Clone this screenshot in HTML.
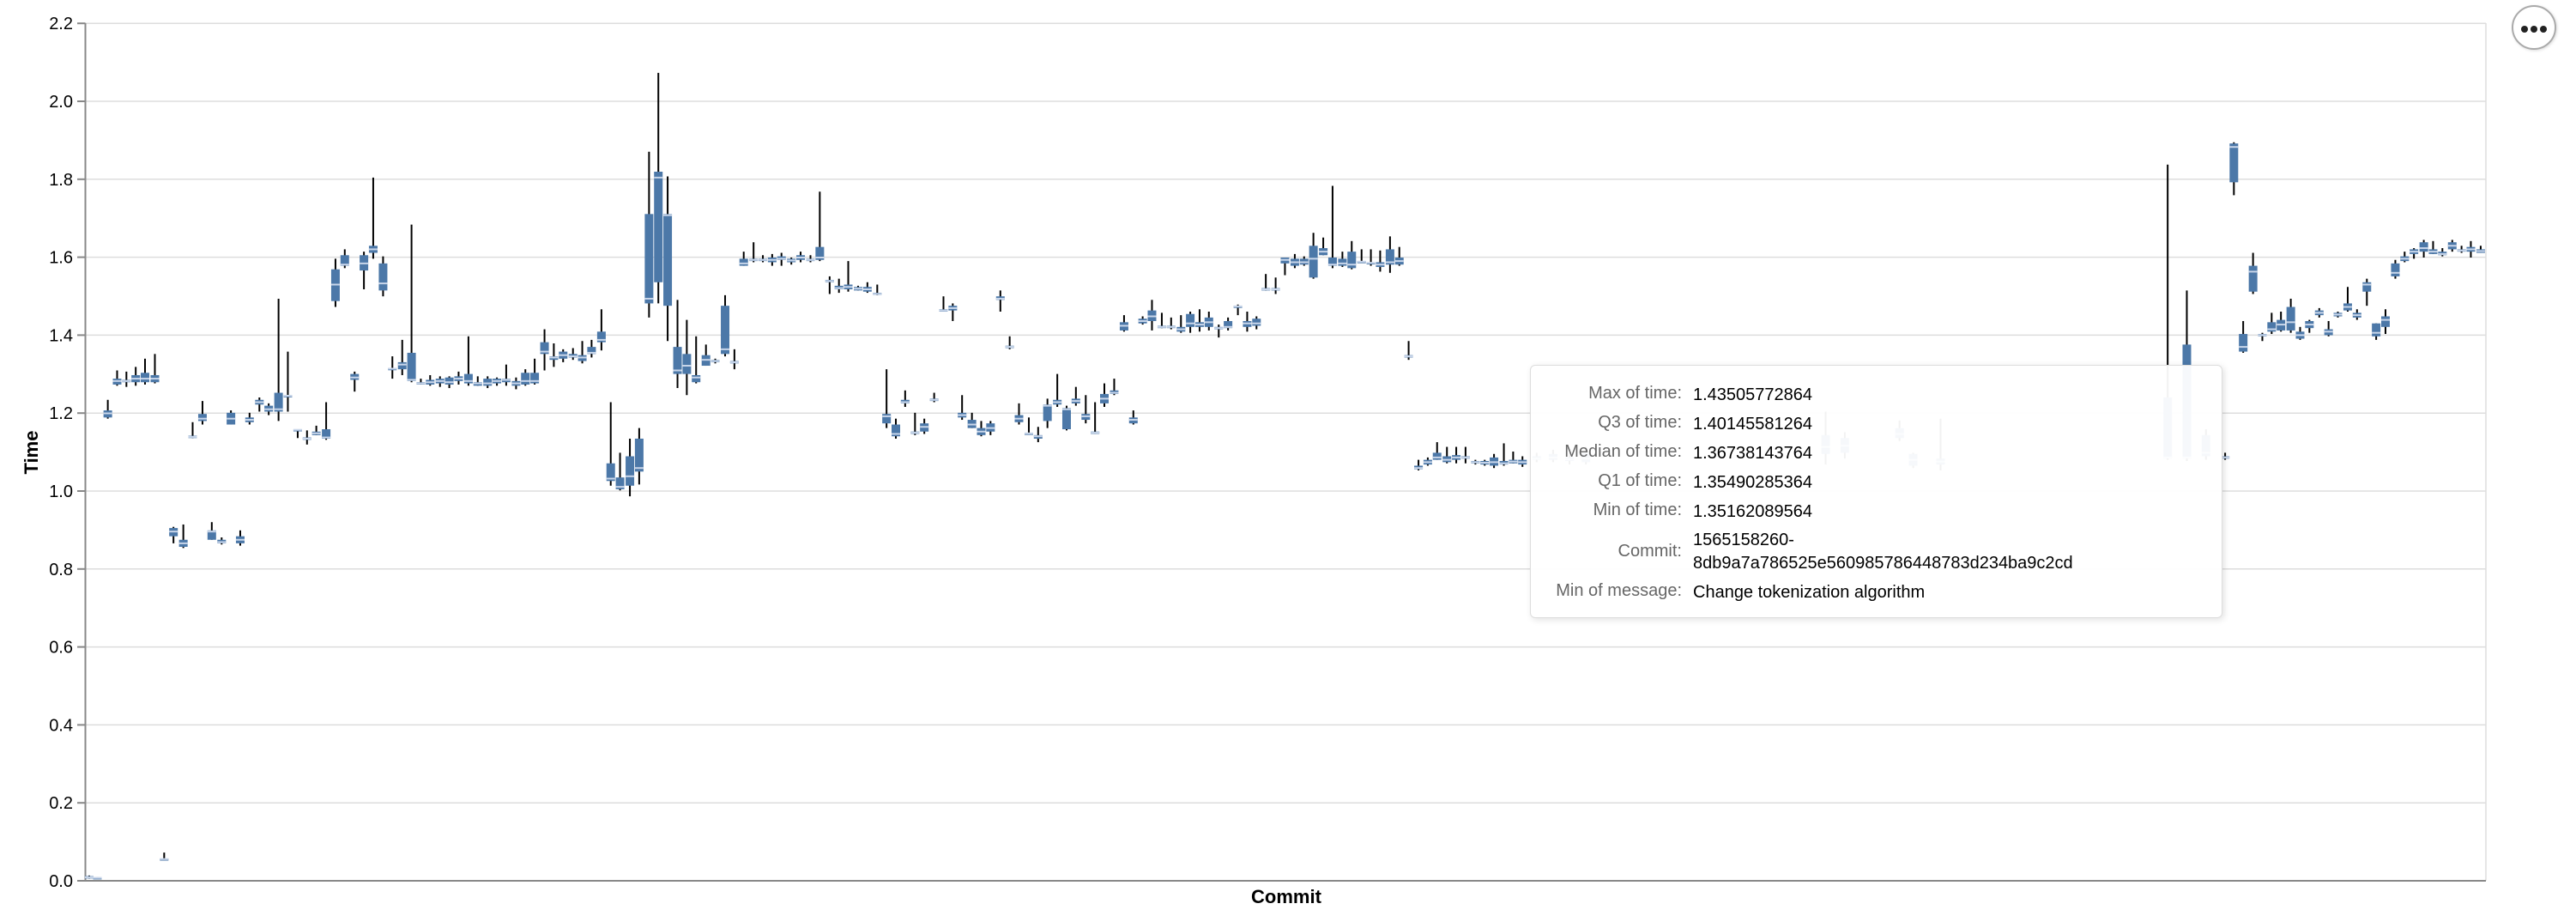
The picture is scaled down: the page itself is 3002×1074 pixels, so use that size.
<!DOCTYPE html>
<html><head><meta charset="utf-8">
<style>
html,body{margin:0;padding:0;background:#fff;}
body{width:3002px;height:1074px;position:relative;overflow:hidden;font-family:"Liberation Sans",sans-serif;}
#tt{position:absolute;left:1783px;top:425px;width:807px;height:295px;background:rgba(255,255,255,0.95);border:1px solid #ddd;border-radius:6px;box-shadow:2px 2px 8px rgba(0,0,0,0.12);box-sizing:border-box;font-size:20px;}
#tt .r{position:absolute;left:0;width:100%;}
#tt .l{position:absolute;right:629px;color:#666;text-align:right;white-space:nowrap;}
#tt .v{position:absolute;left:191px;color:#000;white-space:nowrap;line-height:27px;}
#btn{position:absolute;left:2927px;top:6px;width:52px;height:52px;border:2px solid #aaa;border-radius:50%;background:#fff;box-sizing:border-box;box-shadow:1px 1px 3px rgba(0,0,0,0.15);}
#btn span{position:absolute;top:22px;width:8px;height:8px;border-radius:50%;background:#222;}
</style></head><body>
<svg id="s" width="3002" height="1074" xmlns="http://www.w3.org/2000/svg" style="position:absolute;left:0;top:0">
<g id="grid" stroke="#ddd" stroke-width="1.5"></g>
<line x1="2897" y1="27" x2="2897" y2="1026" stroke="#ddd" stroke-width="1.5"/>
<line x1="99.5" y1="27" x2="99.5" y2="1026" stroke="#888" stroke-width="2"/>
<line x1="99.5" y1="1026" x2="2897" y2="1026" stroke="#888" stroke-width="2"/>
<g id="ticks" font-family="Liberation Sans, sans-serif" font-size="20" fill="#000" text-anchor="end"></g>
<g id="boxes"></g>
<text x="0" y="0" transform="translate(44,527) rotate(-90)" font-family="Liberation Sans, sans-serif" font-size="22" font-weight="bold" text-anchor="middle">Time</text>
<text x="1499" y="1052" font-family="Liberation Sans, sans-serif" font-size="22" font-weight="bold" text-anchor="middle">Commit</text>
</svg>
<div id="tt">
<div class="r" style="top:21px"><span class="l">Max of time:</span><span class="v" style="left:189px">1.43505772864</span></div>
<div class="r" style="top:55px"><span class="l">Q3 of time:</span><span class="v" style="left:189px">1.40145581264</span></div>
<div class="r" style="top:89px"><span class="l">Median of time:</span><span class="v" style="left:189px">1.36738143764</span></div>
<div class="r" style="top:123px"><span class="l">Q1 of time:</span><span class="v" style="left:189px">1.35490285364</span></div>
<div class="r" style="top:157px"><span class="l">Min of time:</span><span class="v" style="left:189px">1.35162089564</span></div>
<div class="r" style="top:205px"><span class="l">Commit:</span></div>
<div class="r" style="top:190px"><span class="v" style="left:189px">1565158260-<br>8db9a7a786525e560985786448783d234ba9c2cd</span></div>
<div class="r" style="top:251px"><span class="l">Min of message:</span><span class="v" style="left:189px">Change tokenization algorithm</span></div>
</div>
<div id="btn"><span style="left:9px"></span><span style="left:20px"></span><span style="left:31px"></span></div>
<script>
(function(){
var NS="http://www.w3.org/2000/svg";
function el(p,n,a){var e=document.createElementNS(NS,n);for(var k in a)e.setAttribute(k,a[k]);p.appendChild(e);return e;}
var grid=document.getElementById('grid'),ticks=document.getElementById('ticks'),bx=document.getElementById('boxes');
for(var i=0;i<=11;i++){var v=i*0.2;var y=1026-v*454;
 if(i>0)el(grid,'line',{x1:99.5,x2:2897,y1:y,y2:y});
 el(ticks,'line',{x1:90,x2:99.5,y1:y,y2:y,stroke:'#888','stroke-width':2});
 var t=el(ticks,'text',{x:85,y:y+7});t.textContent=v.toFixed(1);}
// [zx, top, q3, q1, bot, med]
var D={0:[
[163,1489,1490,1494,1494,1492],[178,1492,1492,1495,1495,1493],
[197,680,698,710,712,703],[214,630,644,654,656,648],[231,632,646,650,658,648],[248,624,638,650,656,644],[265,610,634,650,654,644],[283,602,638,650,652,644],
[300,1450,1460,1463,1463,1461],[317,896,898,912,924,904],[335,892,918,930,932,924],[352,718,741,745,745,743],[370,682,704,716,722,712],[387,888,902,918,918,904],[405,914,918,924,926,922],
[422,698,702,722,722,712],[439,902,912,924,928,918],[456,702,710,718,722,714],[474,676,680,688,700,684],[491,686,690,700,706,696],[509,508,668,700,716,696],[526,598,672,674,700,673],
[544,730,730,732,745,731],[561,732,744,748,756,746],[578,724,734,740,740,737],[596,684,730,746,748,744],[613,440,458,512,522,484],[630,424,434,452,456,450],[648,632,636,646,666,642],
[665,428,434,460,492,448],[682,302,418,430,440,424],[700,436,448,494,504,482],[717,606,626,628,644,627],[735,578,616,628,638,620],[752,382,600,648,650,646],[769,644,650,654,654,652],
[786,638,646,654,656,650],[804,640,644,652,658,648],[821,640,642,654,660,650],[838,632,640,648,654,644],[856,572,636,652,656,648],[873,640,650,656,656,652],[891,640,644,656,660,652],
[908,642,644,652,656,648],[925,620,644,650,656,646],[943,642,648,656,662,652],[960,628,634,654,656,648],[977,610,634,652,654,648],[995,560,582,602,630,598],[1012,584,606,612,624,608],
[1029,594,598,610,616,604],[1047,592,602,608,612,606],[1064,580,604,614,618,608],[1081,578,590,602,608,600],[1099,526,564,582,596,578],[1116,684,788,818,826,814],[1133,770,812,832,834,828],
[1151,746,776,826,844,810],[1168,728,746,802,824,796],[1186,258,364,516,540,508],[1203,124,292,480,516,302],[1220,300,364,520,580,366],[1238,510,590,636,660,630],[1255,544,602,636,672,622],
[1272,572,638,650,652,642],[1290,586,604,622,622,612],[1307,610,612,616,618,614],[1325,502,520,602,606,594],[1342,594,614,618,628,616],[1359,428,440,452,452,448],[1377,412,440,444,446,442],
[1394,434,440,444,446,442],[1411,432,438,446,452,442],[1428,430,436,442,452,440],[1446,438,440,446,450,443],[1463,428,434,442,446,438],[1481,434,440,444,446,442],[1498,326,420,442,444,438],
[1516,470,476,480,500,478],[1533,474,486,492,498,490],[1550,444,484,492,496,488]],
1000:[
[0,486,488,494,494,491],[17,480,488,496,498,492],[35,484,498,501,502,500],[52,628,704,720,728,708],[69,712,722,742,746,738],[86,664,680,686,692,684],[104,702,734,738,740,736],[121,712,720,734,738,726],
[139,668,678,682,684,680],[156,504,526,530,530,528],[173,516,520,528,546,524],[190,672,702,710,714,706],[208,702,714,728,728,722],[225,716,728,740,742,734],[242,716,720,734,740,728],
[260,494,504,510,530,508],[277,572,588,592,594,590],[294,686,706,718,722,712],[312,710,736,738,738,737],[329,726,740,746,752,742],[346,678,688,716,728,690],[364,636,680,688,692,684],
[381,690,694,730,732,696],[398,658,678,686,690,682],[416,672,704,714,720,708],[433,684,734,738,738,736],[450,652,670,686,692,678],[468,644,664,670,672,668],[486,536,548,562,564,554],
[503,698,710,720,722,714],[520,538,542,550,552,546],[537,510,528,546,562,538],[555,532,554,558,558,556],[572,540,554,558,560,556],[590,536,556,564,566,560],[607,530,534,556,566,550],
[624,526,548,556,564,552],[641,530,540,556,562,548],[659,552,556,560,574,558],[676,540,546,558,562,556],[694,518,520,522,536,521],[711,530,546,556,564,550],[728,538,542,554,560,550],
[745,466,490,494,494,492],[763,472,490,494,500,492],[780,438,438,448,468,442],[798,432,440,452,456,446],[815,436,440,450,452,446],[832,396,418,472,474,440],[850,404,422,434,434,428],
[867,316,438,452,456,450],[885,428,440,452,454,448],[902,410,428,456,458,450],[920,424,444,446,446,445],[937,424,446,448,452,447],[954,426,446,454,462,450],[972,402,424,450,464,446],
[989,420,438,450,452,444],[1006,580,604,608,612,606],[1024,782,792,798,800,796],[1041,778,782,790,792,786],[1058,752,770,782,782,778],[1076,760,776,786,788,782],[1093,760,774,782,788,778],
[1110,760,776,780,788,778],[1128,782,784,788,790,786],[1145,782,784,790,792,787],[1162,772,778,792,796,786],[1180,754,784,790,792,788],[1197,768,782,788,788,785],[1214,776,782,790,794,786],
[1240,770,776,782,786,780],[1270,765,772,782,786,778],[1300,770,778,784,790,781],[1330,760,770,786,790,780]],
2000:[
[200,700,740,772,790,760],[235,735,745,770,780,758],[335,715,728,745,750,738],[360,770,772,792,796,782],[410,712,780,790,800,785],
[825,280,676,780,782,778],[860,494,586,780,784,778],[895,730,740,776,782,770],[930,770,776,780,782,778],[946,242,244,310,332,250],[963,546,568,598,600,590],[981,430,452,496,500,462],
[998,566,568,572,580,570],[1015,532,548,564,568,560],[1032,530,544,562,564,552],[1050,508,522,562,566,548],[1067,556,564,576,578,570],[1084,544,546,558,566,552],[1102,524,528,536,540,532],
[1119,546,560,570,572,564],[1136,530,532,538,540,535],[1154,488,516,528,530,522],[1171,526,532,540,544,536],[1189,474,480,496,520,484],[1206,550,550,572,578,566],[1223,526,538,556,568,544],
[1241,442,448,470,474,464],[1258,428,436,444,446,440],[1275,422,424,432,440,428],[1293,408,412,428,438,422],[1310,410,424,432,432,428],[1327,422,428,434,436,432],[1345,408,412,424,428,418],
[1362,418,424,428,430,426],[1379,410,420,428,438,424],[1397,418,424,430,430,427]]};
for(var b in D){var base=+b;D[b].forEach(function(d){
 var x=base+d[0]/1.568,t=d[1]/1.46,q3=d[2]/1.46,q1=d[3]/1.46,bo=d[4]/1.46,m=d[5]/1.46;
 el(bx,'line',{x1:x,x2:x,y1:t,y2:bo,stroke:'#000','stroke-width':2});
 var h=Math.max(q1-q3,2.5);
 el(bx,'rect',{x:x-5,y:q3,width:10,height:h,fill:'#4c78a8'});
 el(bx,'line',{x1:x-5,x2:x+5,y1:m,y2:m,stroke:'#c9d6ea','stroke-width':2});
});}
})();
</script>
</body></html>
